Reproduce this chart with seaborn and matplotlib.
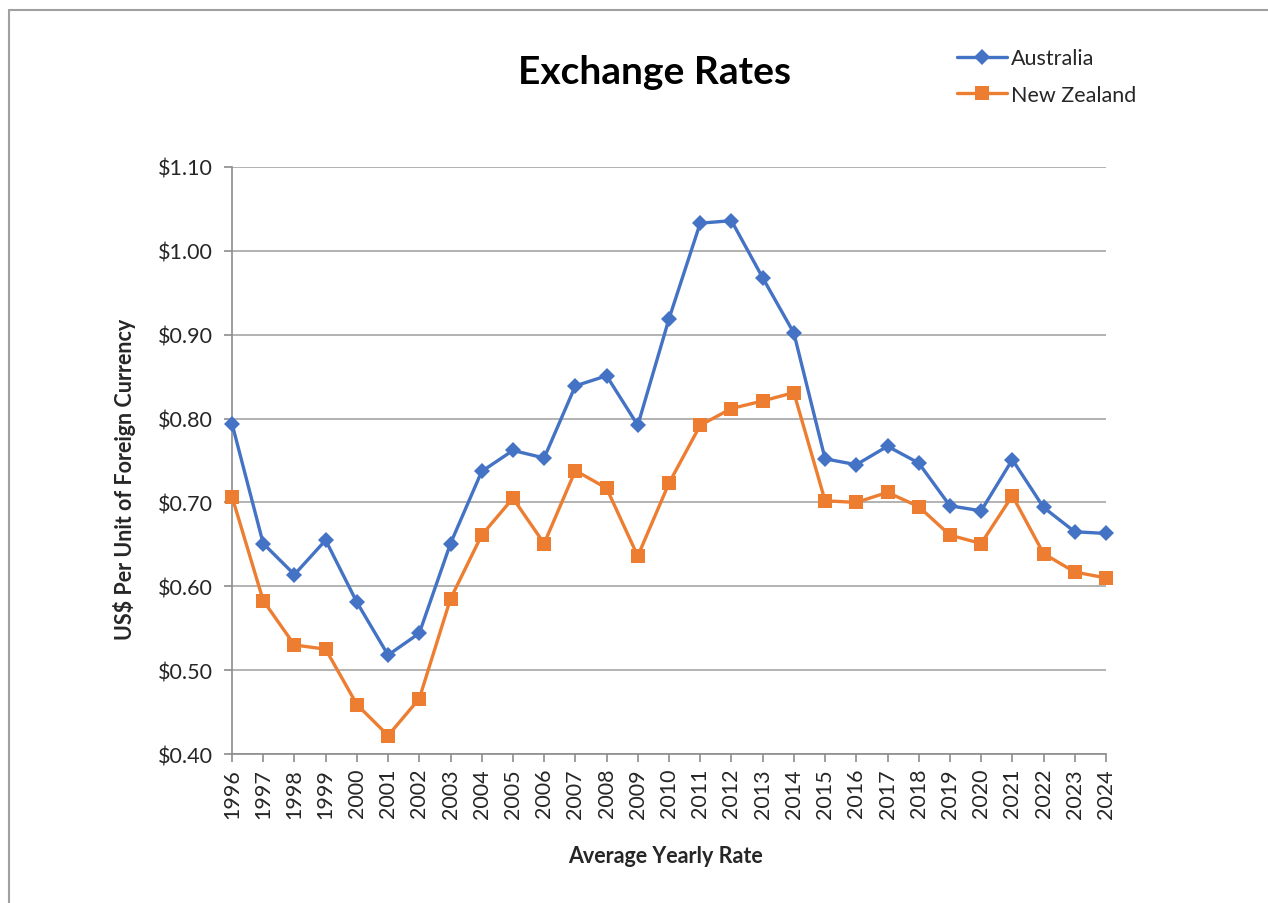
import matplotlib
matplotlib.use('Agg')
import matplotlib.pyplot as plt
import matplotlib.ticker as mticker
from matplotlib.lines import Line2D
import pandas as pd
import seaborn as sns

# Dados
years = list(range(1996, 2025))
australia = [0.794, 0.651, 0.614, 0.655, 0.581, 0.518, 0.544, 0.651, 0.737, 0.762,
             0.753, 0.839, 0.851, 0.792, 0.919, 1.033, 1.036, 0.968, 0.902, 0.752,
             0.745, 0.767, 0.747, 0.696, 0.690, 0.751, 0.694, 0.665, 0.663]
new_zealand = [0.707, 0.583, 0.530, 0.525, 0.459, 0.422, 0.466, 0.585, 0.661, 0.705,
               0.651, 0.738, 0.717, 0.636, 0.723, 0.792, 0.812, 0.821, 0.831, 0.702,
               0.700, 0.712, 0.695, 0.661, 0.651, 0.708, 0.639, 0.617, 0.610]
y_ticks = [0.40, 0.50, 0.60, 0.70, 0.80, 0.90, 1.00, 1.10]

df = pd.DataFrame({'Year': years, 'Australia': australia, 'New Zealand': new_zealand})

sns.set_theme(style='white')
plt.rcParams['font.family'] = ['Lato', 'DejaVu Sans']

fig = plt.figure(figsize=(12.68, 9.04), dpi=100)
ax = fig.add_axes([232 / 1268, 1 - 755 / 904, (1106 - 232) / 1268, (755 - 168) / 904])

blue = '#4472C4'
orange = '#ED7D31'
sns.lineplot(data=df, x='Year', y='Australia', ax=ax, color=blue, linewidth=2.4,
             marker='D', markersize=8.5, markeredgewidth=0, label='Australia',
             clip_on=False, zorder=4)
sns.lineplot(data=df, x='Year', y='New Zealand', ax=ax, color=orange, linewidth=2.4,
             marker='s', markersize=9.5, markeredgewidth=0, label='New Zealand',
             clip_on=False, zorder=3)

ax.set_xlim(1996, 2024)
ax.set_ylim(0.40, 1.10)
ax.set_xticks(years)
ax.set_xticklabels([str(y) for y in years], rotation=90)
ax.set_yticks(y_ticks)
ax.yaxis.set_major_formatter(mticker.StrMethodFormatter('${x:.2f}'))
ax.tick_params(axis='both', labelsize=15.5, colors='#262626', length=6, width=1.2,
               direction='out', bottom=True, left=True)
ax.tick_params(axis='x', pad=4)
ax.tick_params(axis='y', pad=8)
ax.tick_params(axis='both', color='#8c8c8c')
ax.grid(axis='y', color='#a6a6a6', linewidth=1.2)
ax.grid(axis='x', visible=False)
ax.set_axisbelow(True)
for side in ['top', 'right']:
    ax.spines[side].set_visible(False)
for side in ['left', 'bottom']:
    ax.spines[side].set_color('#8c8c8c')
    ax.spines[side].set_linewidth(1.2)
ax.set_xlabel('')
ax.set_ylabel('')

ax.legend(loc='upper left', bbox_to_anchor=(938 / 1268, 1 - 30 / 904),
          bbox_transform=fig.transFigure, frameon=False, fontsize=15.5,
          handlelength=2.3, handletextpad=0.2, labelspacing=0.75,
          labelcolor='#262626')

fig.text(655 / 1268, 1 - 72 / 904, 'Exchange Rates', ha='center', va='center',
         fontsize=28, fontweight='bold', color='black')
fig.text(665 / 1268, 1 - 857 / 904, 'Average Yearly Rate', ha='center', va='center',
         fontsize=15.5, fontweight='bold', color='#262626')
fig.text(125 / 1268, 1 - 479 / 904, 'US$ Per Unit of Foreign Currency', ha='center',
         va='center', rotation=90, fontsize=15.5, fontweight='bold', color='#262626')

# Moldura cinza (só esquerda e topo aparecem no recorte)
fig.add_artist(Line2D([8.5 / 1268, 8.5 / 1268], [0, 1 - 11 / 904],
                      transform=fig.transFigure, color='#a0a0a0', linewidth=1.5))
fig.add_artist(Line2D([8.5 / 1268, 1], [1 - 11 / 904, 1 - 11 / 904],
                      transform=fig.transFigure, color='#a0a0a0', linewidth=1.5))

plt.savefig('out.png', dpi=100)
plt.close()
